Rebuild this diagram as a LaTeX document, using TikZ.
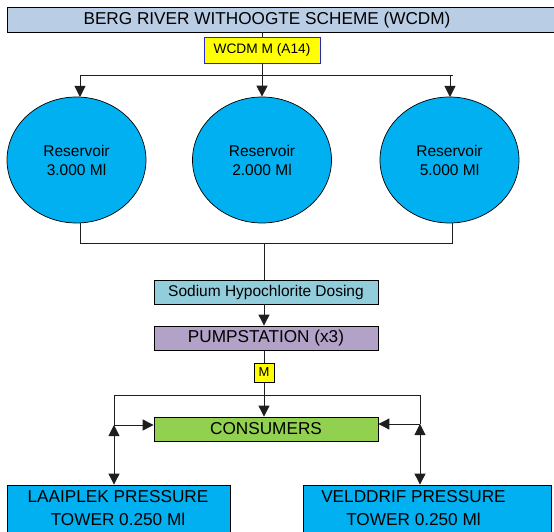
\documentclass[tikz,border=0pt]{standalone}
\usepackage{fontspec}
\setmainfont{Liberation Sans}
\usepackage{tikz}
\usetikzlibrary{arrows.meta,shapes.geometric,shadows,positioning}
\definecolor{black}{RGB}{0,0,0}
\definecolor{hdr}{RGB}{185,205,229}
\definecolor{mtr}{RGB}{255,255,0}
\definecolor{mtredge}{RGB}{40,40,200}
\definecolor{res}{RGB}{0,176,240}
\definecolor{dose}{RGB}{146,205,220}
\definecolor{pmp}{RGB}{178,162,199}
\definecolor{cons}{RGB}{146,208,80}
\definecolor{ln}{RGB}{30,30,30}
\tikzset{
  boxbase/.style={
    draw=black,
    line width=0.8pt,
    inner sep=0pt,
    drop shadow={shadow xshift=1.4pt, shadow yshift=-1.4pt, fill=black, opacity=1}
  },
  bigtxt/.style={font=\fontsize{17.2pt}{23pt}\selectfont, align=center},
  midtxt/.style={font=\fontsize{15.5pt}{19pt}\selectfont, align=center},
  reservoir/.style={
    ellipse,
    draw=black,
    line width=0.7pt,
    fill=res,
    inner sep=0pt,
    minimum width=139pt,
    minimum height=126pt,
    midtxt
  },
  meter/.style={draw, fill=mtr, line width=0.8pt, inner sep=0pt},
  flow/.style={draw=ln, line width=0.9pt, -{Triangle[width=11pt,length=11pt]}},
  both/.style={draw=ln, line width=0.9pt, {Triangle[width=11pt,length=11pt]}-{Triangle[width=11pt,length=11pt]}},
  pipe/.style={draw=ln, line width=0.9pt}
}

\begin{document}
\begin{tikzpicture}[x=1pt, y=-1pt]
\useasboundingbox (0,0) rectangle (554,532);
% scheme header
\node[boxbase, fill=hdr, minimum width=553pt, minimum height=25pt] (title) at (283.5,19.5) {};
\node[bigtxt] (titletxt) at (267,20) {BERG RIVER WITHOOGTE SCHEME (WCDM)};
\node[meter, draw=mtredge, minimum width=116pt, minimum height=26pt, font=\fontsize{13.7pt}{16pt}\selectfont] (wcdm) at (262,50) {WCDM M (A14)};

% reservoirs
\foreach [count = \i] \x/\v in {76.5/3.000, 262/2.000, 449.5/5.000}{
\node[reservoir] (r\i) at (\x,160) {Reservoir\\\v~Ml};
}

\node[boxbase, fill=dose, minimum width=224pt, minimum height=24pt, midtxt] (dosing) at (266,292) {Sodium Hypochlorite Dosing};
\node[boxbase, fill=pmp, minimum width=224pt, minimum height=24pt, bigtxt] (pump) at (266,338) {PUMPSTATION (x3)};
\node[meter, minimum width=20pt, minimum height=19pt, font=\fontsize{13pt}{14pt}\selectfont] (m) at (264,372.5) {M};
\node[boxbase, fill=cons, minimum width=224pt, minimum height=24pt, bigtxt] (consumers) at (266,429) {CONSUMERS};

% towers
\node[boxbase, fill=res, minimum width=223pt, minimum height=60pt] (laaiplek) at (118.5,515) {};
\node[bigtxt] (laaipleklbl) at (118,508.5) {LAAIPLEK PRESSURE\\TOWER 0.250 Ml};
\node[boxbase, fill=res, minimum width=248pt, minimum height=60pt] (velddrif) at (427,515) {};
\node[bigtxt] (velddriflbl) at (413.5,508.5) {VELDDRIF PRESSURE\\TOWER 0.250 Ml};

\coordinate (topl) at (80,75);
\coordinate (topr) at (453,75);
\coordinate (botl) at (80,243);
\coordinate (botr) at (452,243);
\coordinate (botm) at (264,243);
\coordinate (cl) at (114,395);
\coordinate (cr) at (420,395);
\coordinate (jl) at (114,425);
\coordinate (jr) at (420,424);

\draw[pipe] (wcdm.north |- title.south) -- (wcdm.north);
\draw[pipe] (topl) -- (topr);
\draw[flow] (wcdm.south) -- (r2.north);
\draw[flow] (topl) -- ++(0,22);
\draw[flow] (450,75) -- ++(0,22);
\draw[pipe] (botl |- r1.south) -- (botl) -- (botr) -- (botr |- r3.south);
\draw[pipe] (botm) -- (botm |- dosing.north);
\draw[flow] (botm |- dosing.south) -- (botm |- pump.north);
\draw[pipe] (m.north |- pump.south) -- (m.north);
\draw[flow] (m.south) -- (m.south |- consumers.north);
\draw[pipe] (jl) -- (cl) -- (cr) -- (jr);
\draw[flow] (jl) -- (jl -| consumers.west);
\draw[flow] (jr) -- (jr -| consumers.east);
\draw[both] (jl) -- (jl |- laaiplek.north);
\draw[both] (jr) -- (jr |- velddrif.north);
\end{tikzpicture}
\end{document}
